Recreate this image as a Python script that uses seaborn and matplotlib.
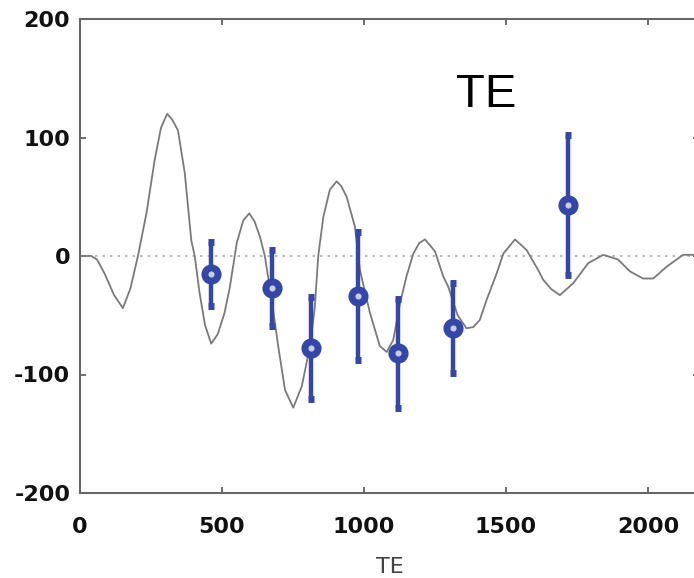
import numpy as np
import pandas as pd
import matplotlib
matplotlib.use("Agg")
import matplotlib.pyplot as plt
import seaborn as sns

# Theory curve
curve_x = [0, 40, 60, 87, 120, 151, 178, 204, 234, 263, 285, 307, 325, 345, 369, 392, 404, 421,
           440, 462, 485, 509, 528, 552, 575, 596, 615, 634, 651, 675, 698, 722, 751, 781, 810,
           827, 839, 857, 880, 904, 920, 939, 968, 986, 1021, 1056, 1080, 1103, 1127, 1150, 1174,
           1195, 1215, 1250, 1279, 1297, 1330, 1361, 1385, 1408, 1432, 1467, 1491, 1532, 1573,
           1614, 1631, 1660, 1690, 1737, 1790, 1843, 1895, 1937, 1983, 2019, 2066, 2124, 2160]
curve_y = [0, 0, -3, -15, -33, -44, -27, 0, 36, 81, 108, 120, 115, 106, 70, 13, 0, -31,
           -58, -74, -66, -48, -26, 11, 30, 36, 29, 16, 0, -37, -76, -113, -128, -110, -76,
           -43, 0, 33, 56, 63, 59, 50, 25, -12, -48, -76, -81, -71, -40, -17, 2,
           11, 14, 4, -17, -26, -50, -61, -60, -54, -37, -15, 2, 14, 5,
           -12, -20, -28, -33, -23, -6, 1, -3, -13, -19, -19, -9, 1, 1]

# Measured band powers
data_x = [461, 676, 813, 979, 1120, 1313, 1718]
data_y = [-15, -27, -78, -34, -82, -61, 43]
data_err = [27, 32, 43, 54, 46, 38, 59]

x_ticks = [0, 500, 1000, 1500, 2000]
y_ticks = [-200, -100, 0, 100, 200]

sns.set_style("ticks")
plt.rcParams['font.family'] = ['DejaVu Sans']
plt.rcParams['axes.unicode_minus'] = False

W, H = 694, 578
fig = plt.figure(figsize=(W / 100, H / 100), dpi=100)
ax = fig.add_axes([80 / W, (H - 493) / H, (699 - 80) / W, (493 - 19) / H])

df = pd.DataFrame({"x": curve_x, "y": curve_y})
sns.lineplot(data=df, x="x", y="y", ax=ax, color="#7a7a7a", linewidth=1.3, sort=False)
ax.axhline(0, color="#aaaaaa", linestyle=(0, (1.5, 3)), linewidth=1.2, zorder=1)

blue = "#3447a6"
ax.errorbar(data_x, data_y, yerr=data_err, fmt="o", color=blue, ecolor=blue,
            elinewidth=3.2, capsize=2.5, capthick=3.2, markersize=9.5,
            markeredgewidth=5, markerfacecolor="#c8cce8", markeredgecolor=blue, zorder=5)

ax.text(1430, 136, "TE", fontsize=34, family="Liberation Sans",
        ha="center", va="center", color="black")

ax.set_xlim(0, 2180)
ax.set_ylim(-200, 200)
ax.set_xticks(x_ticks)
ax.set_yticks(y_ticks)
ax.set_xlabel("TE", fontsize=16, color="#444444", labelpad=15)
ax.set_ylabel("")
ax.tick_params(axis="both", direction="in", length=4, width=1.2, color="#555555",
               labelsize=16, labelcolor="#111111")
ax.tick_params(axis="x", top=True, pad=17)
ax.tick_params(axis="y", right=True, pad=7)
for lab in ax.get_xticklabels() + ax.get_yticklabels():
    lab.set_fontweight("bold")
for sp in ax.spines.values():
    sp.set_visible(True)
    sp.set_color("#666666")
    sp.set_linewidth(1.5)

fig.savefig("out.png", dpi=100)
